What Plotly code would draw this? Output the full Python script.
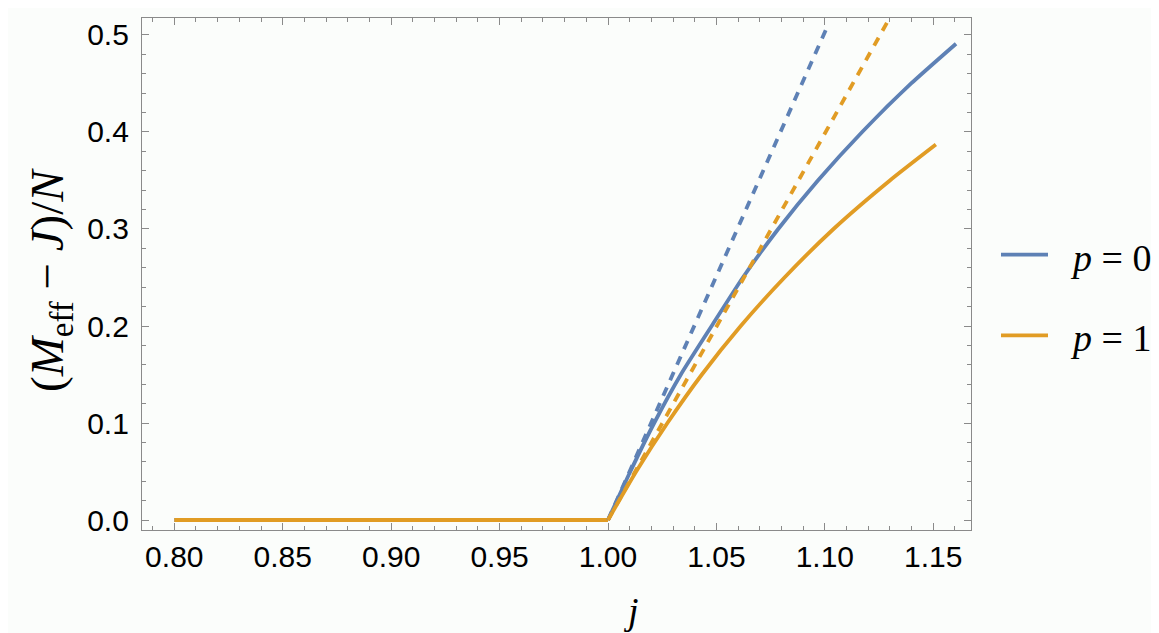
import plotly.graph_objects as go

# ---- data ----
flat_j = [0.80, 1.00]
flat_m = [0.0, 0.0]

p0_j = [1.0, 1.0103, 1.0213, 1.0336, 1.0478, 1.0622, 1.0785, 1.0968, 1.1172, 1.1398, 1.1605]
p0_m = [0.0, 0.05, 0.10, 0.15, 0.20, 0.25, 0.30, 0.35, 0.40, 0.45, 0.491]

p1_j = [1.0, 1.0130, 1.0274, 1.0433, 1.0612, 1.0814, 1.1040, 1.1300, 1.1512]
p1_m = [0.0, 0.05, 0.10, 0.15, 0.20, 0.25, 0.30, 0.35, 0.387]

p0_lin_j = [1.0, 1.1012]
p0_lin_m = [0.0, 0.509]

p1_lin_j = [1.0, 1.1310]
p1_lin_m = [0.0, 0.522]

legend_labels = ["<i>p</i> = 0", "<i>p</i> = 1"]

BLUE = "#5E81B5"
ORANGE = "#E19C24"
BG = "#fbfdfb"
FRAME = "#8a8a8a"

fig = go.Figure()

# solid curves
fig.add_trace(go.Scatter(x=flat_j, y=flat_m, mode="lines",
                         line=dict(color=BLUE, width=3.8), showlegend=False))
fig.add_trace(go.Scatter(x=p0_j, y=p0_m, mode="lines",
                         line=dict(color=BLUE, width=3.8, shape="spline", smoothing=0.6),
                         showlegend=False))
fig.add_trace(go.Scatter(x=flat_j, y=flat_m, mode="lines",
                         line=dict(color=ORANGE, width=3.8), showlegend=False))
fig.add_trace(go.Scatter(x=p1_j, y=p1_m, mode="lines",
                         line=dict(color=ORANGE, width=3.8, shape="spline", smoothing=0.6),
                         showlegend=False))
# dashed linear approximations
fig.add_trace(go.Scatter(x=p0_lin_j, y=p0_lin_m, mode="lines",
                         line=dict(color=BLUE, width=3.8, dash="9px,8px"), showlegend=False))
fig.add_trace(go.Scatter(x=p1_lin_j, y=p1_lin_m, mode="lines",
                         line=dict(color=ORANGE, width=3.8, dash="9px,8px"), showlegend=False))

L, R, T, B = 134, 196, 10, 111
W, H = 1159, 633
pw = W - L - R
ph = H - T - B

def px(xp):
    return (xp - L) / pw

def py(yp):
    return (H - B - yp) / ph

tickfont = dict(family="Liberation Sans, Arial, sans-serif", size=30, color="black")

fig.update_xaxes(range=[0.7851, 1.1674], tickmode="array",
                 tickvals=[0.80, 0.85, 0.90, 0.95, 1.00, 1.05, 1.10, 1.15],
                 tickformat=".2f", ticks="inside", ticklen=7, tickwidth=1,
                 tickcolor=FRAME, showline=True, linecolor=FRAME, linewidth=1.2,
                 mirror="ticks", showgrid=False, zeroline=False, tickfont=tickfont,
                 minor=dict(ticks="inside", ticklen=4, dtick=0.01, tickcolor=FRAME,
                            tick0=0.8, showgrid=False))
fig.update_yaxes(range=[-0.0103, 0.5175], tickmode="array",
                 tickvals=[0.0, 0.1, 0.2, 0.3, 0.4, 0.5],
                 tickformat=".1f", ticks="inside", ticklen=7, tickwidth=1,
                 tickcolor=FRAME, showline=True, linecolor=FRAME, linewidth=1.2,
                 mirror="ticks", showgrid=False, zeroline=False, tickfont=tickfont,
                 ticklabelstandoff=6,
                 minor=dict(ticks="inside", ticklen=4, dtick=0.02, tickcolor=FRAME,
                            tick0=0.0, showgrid=False))

serif = "Liberation Serif, Times New Roman, serif"
annotations = [
    dict(text="<i>j</i>", x=px(623), y=py(603), xref="paper", yref="paper",
         showarrow=False, font=dict(family=serif, size=38, color="black"),
         xanchor="center", yanchor="middle"),
    dict(text="(<i>M</i><sub>eff</sub> − <i>J</i>)/<i>N</i>", x=px(42), y=py(272),
         xref="paper", yref="paper", showarrow=False, textangle=-90,
         font=dict(family=serif, size=47, color="black"),
         xanchor="center", yanchor="middle"),
]
shapes = []
for lbl, col, yc in zip(legend_labels, [BLUE, ORANGE], [246.7, 327.3]):
    shapes.append(dict(type="line", xref="paper", yref="paper",
                       x0=px(993), x1=px(1040), y0=py(yc), y1=py(yc),
                       line=dict(color=col, width=3.8)))
    annotations.append(dict(text=lbl, x=px(1060), y=py(yc + 3), xref="paper", yref="paper",
                            showarrow=False, xanchor="left", yanchor="middle",
                            font=dict(family=serif, size=38, color="black")))

fig.update_layout(width=W, height=H, margin=dict(l=L, r=R, t=T, b=B, pad=0),
                  paper_bgcolor=BG, plot_bgcolor=BG, showlegend=False,
                  annotations=annotations, shapes=shapes)

fig.write_html("out.html")
